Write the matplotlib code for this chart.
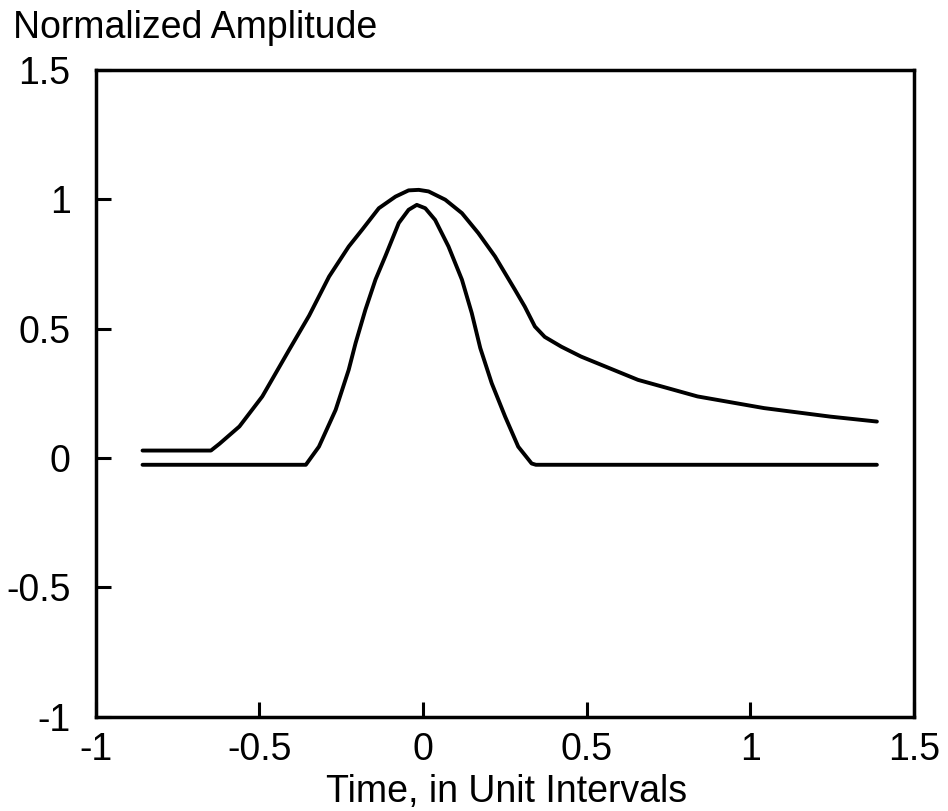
import matplotlib
matplotlib.use("Agg")
import matplotlib.pyplot as plt

plt.rcParams["font.family"] = ["Liberation Sans", "DejaVu Sans"]
plt.rcParams["axes.unicode_minus"] = False

# wide pulse (upper curve, with long tail)
wide_x = [-0.857, -0.648, -0.622, -0.561, -0.491, -0.409, -0.348, -0.287,
          -0.227, -0.186, -0.135, -0.084, -0.044, -0.013, 0.017, 0.068,
          0.119, 0.169, 0.220, 0.281, 0.311, 0.342, 0.372, 0.423, 0.483,
          0.657, 0.839, 1.042, 1.245, 1.387]
wide_y = [0.029, 0.029, 0.055, 0.122, 0.238, 0.418, 0.550, 0.701,
          0.817, 0.882, 0.965, 1.010, 1.034, 1.036, 1.030, 0.998,
          0.946, 0.869, 0.779, 0.650, 0.585, 0.508, 0.468, 0.430, 0.392,
          0.302, 0.238, 0.193, 0.160, 0.141]

# narrow pulse (lower curve)
narrow_x = [-0.857, -0.358, -0.318, -0.267, -0.227, -0.206, -0.176, -0.145,
            -0.115, -0.074, -0.044, -0.019, 0.007, 0.037, 0.078, 0.119,
            0.149, 0.175, 0.210, 0.251, 0.291, 0.332, 0.345, 1.387]
narrow_y = [-0.026, -0.026, 0.044, 0.186, 0.341, 0.444, 0.573, 0.690,
            0.780, 0.908, 0.959, 0.978, 0.965, 0.920, 0.817, 0.689,
            0.560, 0.425, 0.289, 0.160, 0.044, -0.021, -0.026, -0.026]

xticks = [-1, -0.5, 0, 0.5, 1, 1.5]
xtick_labels = ["-1", "-0.5", "0", "0.5", "1", "1.5"]
yticks = [-1, -0.5, 0, 0.5, 1, 1.5]
ytick_labels = ["-1", "-0.5", "0", "0.5", "1", "1.5"]

fig = plt.figure(figsize=(9.48, 8.11), dpi=100)
ax = fig.add_axes([0.101, 0.116, 0.863, 0.798])

ax.plot(wide_x, wide_y, color="black", lw=2.8,
        solid_capstyle="round", solid_joinstyle="round")
ax.plot(narrow_x, narrow_y, color="black", lw=2.8,
        solid_capstyle="round", solid_joinstyle="round")

ax.set_xlim(-1, 1.5)
ax.set_ylim(-1, 1.5)
ax.set_xticks(xticks)
ax.set_xticklabels(xtick_labels)
ax.set_yticks(yticks)
ax.set_yticklabels(ytick_labels)
for s in ax.spines.values():
    s.set_linewidth(2.5)
ax.tick_params(axis="both", direction="in", length=11, width=2.2,
               labelsize=27, top=False, right=False)
ax.tick_params(axis="x", pad=11)
ax.tick_params(axis="y", pad=18)

fig.text(13 / 948, 1 - 38 / 811, "Normalized Amplitude", fontsize=27,
         ha="left", va="baseline")
fig.text(507 / 948, 9 / 811, "Time, in Unit Intervals", fontsize=27,
         ha="center", va="baseline")

fig.savefig("out.png", dpi=100)
